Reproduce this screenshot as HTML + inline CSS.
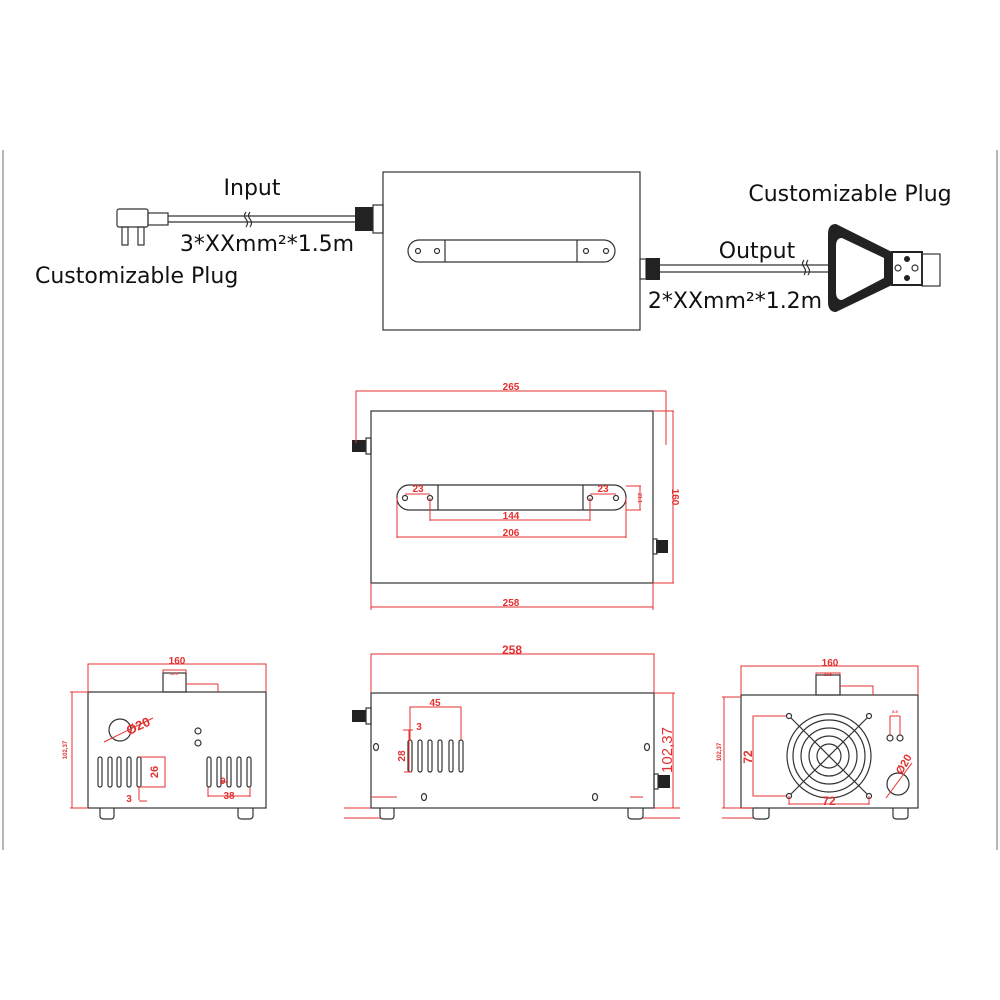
<!DOCTYPE html>
<html><head><meta charset="utf-8"><style>
html,body{margin:0;padding:0;background:#fff;}
svg{display:block;}
.k{stroke:#333;fill:none;stroke-width:1.2}
.r{stroke:#e53030;fill:none;stroke-width:1}
.rt{fill:#e53030;font-family:"Liberation Sans",sans-serif;font-size:10px;font-weight:bold;text-anchor:middle}
.bt{fill:#111;font-family:"DejaVu Sans","Liberation Sans",sans-serif;font-size:22px}
</style></head><body>
<svg width="1000" height="1000" viewBox="0 0 1000 1000" xmlns="http://www.w3.org/2000/svg">
<line x1="3" y1="150" x2="3" y2="850" stroke="#888" stroke-width="1.2"/>
<line x1="997" y1="150" x2="997" y2="850" stroke="#888" stroke-width="1.2"/>

<!-- top product -->
<rect x="383" y="172" width="257" height="158" class="k"/>
<rect x="408" y="240" width="207" height="22" rx="11" class="k"/>
<line x1="445" y1="240" x2="445" y2="262" class="k"/><line x1="577" y1="240" x2="577" y2="262" class="k"/>
<circle cx="418" cy="251" r="2.5" class="k"/><circle cx="437" cy="251" r="2.5" class="k"/>
<circle cx="586" cy="251" r="2.5" class="k"/><circle cx="606" cy="251" r="2.5" class="k"/>
<!-- input cable -->
<line x1="168" y1="216" x2="355" y2="216" class="k"/><line x1="168" y1="222" x2="355" y2="222" class="k"/>
<path d="M246 212 q-3 4 0 7 q3 4 0 8 M250 212 q-3 4 0 7 q3 4 0 8" class="k" stroke-width="1"/>
<rect x="117" y="209" width="31" height="18" rx="2" class="k" stroke-width="1.5"/>
<rect x="148" y="213" width="20" height="12" class="k"/>
<rect x="122" y="227" width="6" height="18" class="k" stroke-width="1.5"/><rect x="138" y="227" width="6" height="18" class="k" stroke-width="1.5"/>
<rect x="355" y="207" width="18" height="24" fill="#222"/><rect x="373" y="205" width="10" height="28" class="k" stroke-width="2"/>
<text x="252" y="195" class="bt" text-anchor="middle">Input</text>
<text x="267" y="251" class="bt" text-anchor="middle">3*XXmm²*1.5m</text>
<text x="35" y="283" class="bt">Customizable Plug</text>
<!-- output -->
<rect x="640" y="259" width="6" height="20" class="k" stroke-width="2"/><rect x="646" y="258" width="14" height="22" fill="#222"/>
<line x1="660" y1="265" x2="892" y2="265" class="k"/><line x1="660" y1="272" x2="892" y2="272" class="k"/>
<path d="M804 260 q-3 4 0 7 q3 4 0 8 M808 260 q-3 4 0 7 q3 4 0 8" class="k" stroke-width="1"/>
<rect x="872" y="263" width="20" height="11" class="k"/>
<path d="M836 224 Q828 224 828 234 L828 302 Q828 312 836 312 L892 285 L892 252 Z" fill="#222"/>
<path d="M842 238 Q836 238 836 246 L836 292 Q836 300 842 300 L884 278 L884 258 Z" fill="#fff"/>
<rect x="892" y="252" width="30" height="33" fill="#fff" stroke="#222" stroke-width="2"/>
<circle cx="898" cy="268" r="3" class="k"/><circle cx="915" cy="268" r="3" class="k"/>
<circle cx="907" cy="259" r="3" fill="#222"/><circle cx="907" cy="278" r="3" fill="#222"/>
<rect x="922" y="254" width="18" height="32" class="k" stroke-width="2.5"/>
<text x="757" y="258" class="bt" text-anchor="middle">Output</text>
<text x="735" y="308" class="bt" text-anchor="middle">2*XXmm²*1.2m</text>
<text x="850" y="201" class="bt" text-anchor="middle">Customizable Plug</text>

<!-- top view -->
<rect x="371" y="411" width="282" height="172" class="k"/>
<rect x="352" y="440" width="14" height="12" fill="#222"/><rect x="366" y="438" width="5" height="16" class="k"/>
<rect x="656" y="540" width="12" height="13" fill="#222"/><rect x="653" y="539" width="4" height="15" class="k"/>
<rect x="397" y="485" width="229" height="25" rx="12" class="k"/>
<line x1="438" y1="485" x2="438" y2="510" class="k"/><line x1="583" y1="485" x2="583" y2="510" class="k"/>
<circle cx="405" cy="498" r="2.5" class="k"/><circle cx="430" cy="498" r="2.5" class="k"/>
<circle cx="590" cy="498" r="2.5" class="k"/><circle cx="616" cy="498" r="2.5" class="k"/>
<path d="M356 443 V391 H666 V445 M653 411 H674 M653 583 H674 M673 411 V583 M371 583 V610 M653 583 V610 M371 607 H653 M405 494 H430 M590 494 H616 M430 498 V521 M590 498 V521 M430 520 H590 M397 498 V538 M626 498 V538 M397 537 H626 M626 486 H641 M626 510 H641 M640 486 V510" class="r"/>
<text x="511" y="390" class="rt">265</text>
<text x="511" y="606" class="rt">258</text>
<text x="511" y="519" class="rt">144</text>
<text x="511" y="536" class="rt">206</text>
<text x="418" y="492" class="rt">23</text><text x="603" y="492" class="rt">23</text>
<text x="0" y="0" class="rt" transform="translate(672,497) rotate(90)">160</text>
<text x="0" y="0" class="rt" style="font-size:5px" transform="translate(638,498) rotate(90)">21.1</text>

<!-- left side view -->
<rect x="88" y="692" width="178" height="116" class="k"/>
<rect x="163" y="673" width="23" height="19" class="k"/>
<path d="M100 808 V816 Q100 819 104 819 H111 Q114 819 114 816 V808 M238 808 V816 Q238 819 242 819 H249 Q253 819 253 816 V808" class="k"/>
<circle cx="120" cy="730" r="11" class="k"/>
<circle cx="198" cy="731" r="3" class="k"/><circle cx="198" cy="743" r="3" class="k"/>
<g class="k" stroke-width="1">
<rect x="98" y="757" width="4" height="30" rx="2"/><rect x="108" y="757" width="4" height="30" rx="2"/><rect x="117" y="757" width="4" height="30" rx="2"/><rect x="127" y="757" width="4" height="30" rx="2"/><rect x="137" y="757" width="4" height="30" rx="2"/>
<rect x="207" y="757" width="4" height="30" rx="2"/><rect x="217" y="757" width="4" height="30" rx="2"/><rect x="227" y="757" width="4" height="30" rx="2"/><rect x="237" y="757" width="4" height="30" rx="2"/><rect x="247" y="757" width="4" height="30" rx="2"/>
</g>
<path d="M88 692 V664 H266 V692 M163 673 V670 H186 V673 M186 684 H218 M218 684 V692 M88 692 H70 M88 808 H70 M72 692 V808 M104 742 L153 718 M139 757 H165 V787 H139 M139 787 V800 M139 801 H147 M208 787 V797 M250 787 V797 M208 796 H250 M220 782 H228" class="r"/>
<text x="177" y="664" class="rt">160</text><text x="174" y="675" class="rt" style="font-size:4px">22.5</text>
<text x="0" y="0" class="rt" style="font-size:13px" transform="translate(140,730) rotate(-25)">Ø20</text>
<text x="0" y="0" class="rt" style="font-size:11px" transform="translate(158,772) rotate(-90)">26</text>
<text x="129" y="802" class="rt">3</text>
<text x="229" y="799" class="rt">38</text>
<text x="223" y="784" class="rt" style="font-size:9px">9</text>
<text x="0" y="0" class="rt" style="font-size:6px" transform="translate(67,750) rotate(-90)">102,37</text>

<!-- middle side view -->
<rect x="371" y="693" width="283" height="115" class="k"/>
<rect x="352" y="710" width="14" height="12" fill="#222"/><rect x="366" y="708" width="5" height="16" class="k"/>
<rect x="658" y="775" width="12" height="13" fill="#222"/><rect x="654" y="774" width="4" height="15" class="k"/>
<g class="k" stroke-width="1">
<rect x="408" y="740" width="4" height="32" rx="2"/><rect x="418" y="740" width="4" height="32" rx="2"/><rect x="428" y="740" width="4" height="32" rx="2"/><rect x="438" y="740" width="4" height="32" rx="2"/><rect x="449" y="740" width="4" height="32" rx="2"/><rect x="459" y="740" width="4" height="32" rx="2"/>
</g>
<ellipse cx="376" cy="747" rx="2.5" ry="3.5" class="k"/><ellipse cx="647" cy="747" rx="2.5" ry="3.5" class="k"/>
<ellipse cx="424" cy="797" rx="2.5" ry="3.5" class="k"/><ellipse cx="595" cy="797" rx="2.5" ry="3.5" class="k"/>
<path d="M380 808 V816 Q380 819 384 819 H391 Q394 819 394 816 V808 M628 808 V816 Q628 819 632 819 H639 Q643 819 643 816 V808" class="k"/>
<path d="M371 693 V654 H654 V693 M654 693 H675 M654 808 H675 M673 693 V808 M410 740 V707 H461 V740 M403 730 H413 M409 730 V772 M404 772 H411 M344 808 H371 M344 818 H380 M371 797 H397 M643 797 H630 M654 808 H680 M643 818 H680" class="r"/>
<text x="512" y="654" class="rt" style="font-size:12px">258</text>
<text x="435" y="706" class="rt">45</text>
<text x="419" y="730" class="rt">3</text>
<text x="0" y="0" class="rt" transform="translate(405,756) rotate(-90)">28</text>
<text x="0" y="0" class="rt" style="font-size:15px;font-weight:normal" transform="translate(672,750) rotate(-90)">102,37</text>

<!-- right side view -->
<rect x="741" y="695" width="177" height="113" class="k"/>
<rect x="816" y="675" width="24" height="20" class="k"/>
<path d="M753 808 V816 Q753 819 757 819 H765 Q769 819 769 816 V808 M893 808 V816 Q893 819 897 819 H904 Q908 819 908 816 V808" class="k"/>
<g class="k" stroke-width="1.3">
<circle cx="829" cy="756" r="42"/><circle cx="829" cy="756" r="36"/><circle cx="829" cy="756" r="28"/><circle cx="829" cy="756" r="20"/><circle cx="829" cy="756" r="12"/>
<line x1="789" y1="716" x2="869" y2="796"/><line x1="869" y1="716" x2="789" y2="796"/>
<circle cx="789" cy="716" r="2.5" fill="#fff"/><circle cx="869" cy="716" r="2.5" fill="#fff"/><circle cx="789" cy="796" r="2.5" fill="#fff"/><circle cx="869" cy="796" r="2.5" fill="#fff"/>
<circle cx="898" cy="784" r="11"/><circle cx="890" cy="738" r="3"/><circle cx="900" cy="738" r="3"/>
</g>
<path d="M741 695 V666 H918 V695 M816 675 V673 H840 V675 M840 686 H873 V695 M741 697 H722 M741 808 H722 M724 697 V808 M786 716 H753 V796 H786 M789 796 V805 M869 796 V805 M789 804 H869 M890 735 V716 M900 735 V716 M890 716 H900 M886 798 L912 763 M722 808 H753 M722 818 H753" class="r"/>
<text x="830" y="666" class="rt">160</text><text x="828" y="676" class="rt" style="font-size:4px">22.5</text>
<text x="0" y="0" class="rt" style="font-size:12px" transform="translate(752,757) rotate(-90)">72</text>
<text x="829" y="805" class="rt" style="font-size:12px">72</text>
<text x="895" y="713" class="rt" style="font-size:4px">8.5</text>
<text x="0" y="0" class="rt" style="font-size:11px" transform="translate(907,766) rotate(-60)">Ø20</text>
<text x="0" y="0" class="rt" style="font-size:6px" transform="translate(721,752) rotate(-90)">102,37</text>
</svg>
</body></html>
